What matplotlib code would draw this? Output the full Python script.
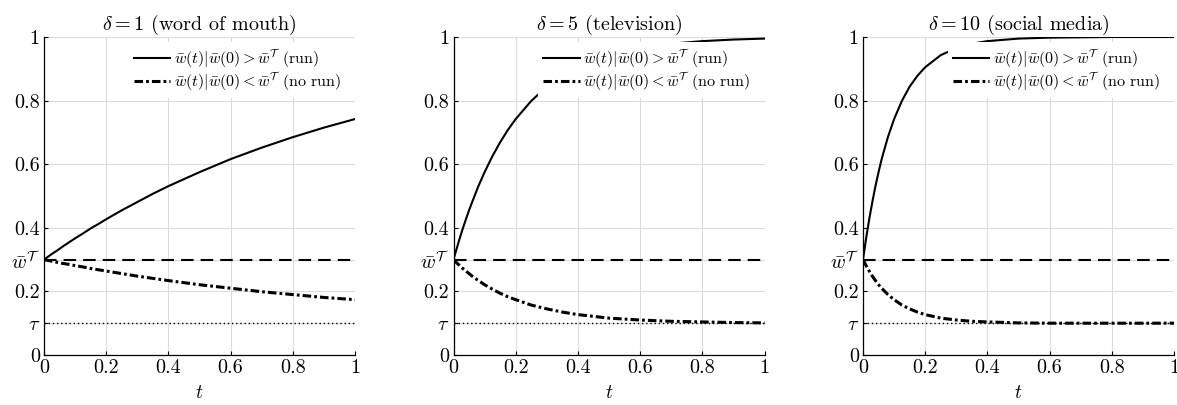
import numpy as np
import matplotlib
matplotlib.use("Agg")
import matplotlib.pyplot as plt

plt.rcParams['font.family'] = 'serif'
plt.rcParams['font.serif'] = ['cmr10']
plt.rcParams['mathtext.fontset'] = 'cm'
plt.rcParams['axes.formatter.use_mathtext'] = True

# time grid
t = [0, 0.01, 0.02, 0.03, 0.04, 0.05, 0.06, 0.08, 0.1, 0.125, 0.15, 0.175,
     0.2, 0.25, 0.3, 0.35, 0.4, 0.5, 0.6, 0.7, 0.8, 0.9, 1.0]

titles = [r'$\delta = 1$ (word of mouth)', r'$\delta = 5$ (television)',
          r'$\delta = 10$ (social media)']

# run paths (solid)
run_d1 = [0.300, 0.307, 0.314, 0.321, 0.327, 0.334, 0.341, 0.354, 0.367, 0.382, 0.398, 0.412,
          0.427, 0.455, 0.481, 0.507, 0.531, 0.575, 0.616, 0.652, 0.685, 0.715, 0.742]
run_d5 = [0.300, 0.334, 0.367, 0.398, 0.427, 0.455, 0.481, 0.531, 0.575, 0.625, 0.669, 0.708,
          0.742, 0.799, 0.844, 0.878, 0.905, 0.943, 0.965, 0.979, 0.987, 0.992, 0.995]
run_d10 = [0.300, 0.367, 0.427, 0.481, 0.531, 0.575, 0.616, 0.685, 0.742, 0.799, 0.844, 0.878,
           0.905, 0.943, 0.965, 0.979, 0.987, 0.995, 0.998, 0.999, 1.000, 1.000, 1.000]

# no-run paths (dash-dot)
norun_d1 = [0.300, 0.298, 0.296, 0.294, 0.292, 0.290, 0.288, 0.285, 0.281, 0.277, 0.272, 0.268,
            0.264, 0.256, 0.248, 0.241, 0.234, 0.221, 0.210, 0.199, 0.190, 0.181, 0.174]
norun_d5 = [0.300, 0.290, 0.281, 0.272, 0.264, 0.256, 0.248, 0.234, 0.221, 0.207, 0.194, 0.183,
            0.174, 0.157, 0.145, 0.135, 0.127, 0.116, 0.110, 0.106, 0.104, 0.102, 0.101]
norun_d10 = [0.300, 0.281, 0.264, 0.248, 0.234, 0.221, 0.210, 0.190, 0.174, 0.157, 0.145, 0.135,
             0.127, 0.116, 0.110, 0.106, 0.104, 0.101, 0.100, 0.100, 0.100, 0.100, 0.100]

w_threshold = 0.3
tau = 0.1

yticks = [0, tau, 0.2, w_threshold, 0.4, 0.6, 0.8, 1]
yticklabels = ['0', r'$\tau$', '0.2', r'$\bar{w}^{\mathcal{T}}$', '0.4', '0.6', '0.8', '1']
xticks = [0, 0.2, 0.4, 0.6, 0.8, 1]
xticklabels = ['0', '0.2', '0.4', '0.6', '0.8', '1']

runs = [run_d1, run_d5, run_d10]
noruns = [norun_d1, norun_d5, norun_d10]

fig = plt.figure(figsize=(11.77, 4.05), dpi=100)
lefts = [44, 453.5, 863]
for i in range(3):
    ax = fig.add_axes([lefts[i] / 1177, 50 / 405, 311 / 1177, 318 / 405])
    ax.plot(t, runs[i], color='k', lw=1.5,
            label=r'$\bar{w}(t)|\bar{w}(0) > \bar{w}^{\mathcal{T}}$ (run)')
    ax.plot(t, noruns[i], color='k', lw=2.2, ls=(0, (2.8, 1.0, 0.9, 1.0)),
            label=r'$\bar{w}(t)|\bar{w}(0) < \bar{w}^{\mathcal{T}}$ (no run)')
    ax.axhline(w_threshold, color='k', lw=1.5, ls=(0, (6, 3.4)))
    ax.axhline(tau, color='k', lw=1.0, ls=(0, (1, 2)))
    ax.set_xlim(0, 1)
    ax.set_ylim(0, 1)
    ax.set_xticks(xticks)
    ax.set_xticklabels(xticklabels)
    ax.set_yticks(yticks)
    ax.set_yticklabels(yticklabels)
    ax.tick_params(direction='in', length=3, labelsize=14.5, width=0.8, pad=3)
    ax.grid(True, color='#dcdcdc', lw=0.8)
    ax.set_axisbelow(True)
    for s in ['top', 'right']:
        ax.spines[s].set_visible(False)
    for s in ['left', 'bottom']:
        ax.spines[s].set_linewidth(0.9)
    ax.set_title(titles[i], fontsize=14.5, pad=4)
    ax.set_xlabel(r'$t$', fontsize=14, labelpad=5)
    ax.legend(loc='upper right', bbox_to_anchor=(0.97, 0.985), fontsize=11.5,
              frameon=True, fancybox=False, framealpha=1, edgecolor='none',
              facecolor='white', handlelength=2.3, handletextpad=0.2,
              borderpad=0.3, labelspacing=0.0, borderaxespad=0)

fig.savefig('out.png', dpi=100)
